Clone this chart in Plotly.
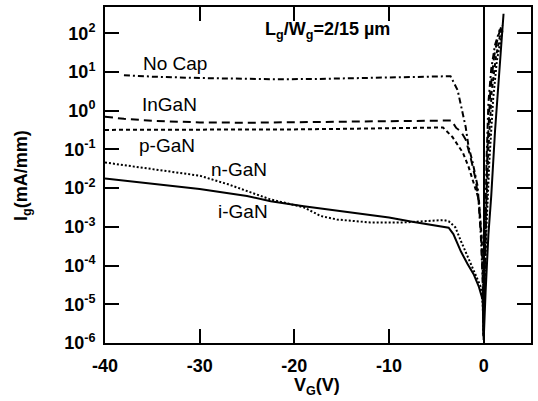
import plotly.graph_objects as go

# ---- data (gate voltage V, gate current mA/mm) ----
v_nocap = [-38, -35, -30, -25, -22, -18, -15, -12, -8, -5, -3.5, -2.75, -2.43, -1.9, -1.6, -1.16, -0.63, -0.3, -0.1, 0,
           0.05, 0.15, 0.3, 0.5, 0.8, 1.2, 1.7]
i_nocap = [8.3, 7.6, 7.0, 6.7, 6.5, 6.6, 6.8, 7.2, 7.5, 7.7, 7.8, 3.4, 1.6, 0.38, 0.12, 0.046, 0.011, 6e-4, 4e-5, 1.5e-6,
           1.6e-5, 1e-3, 0.05, 1.6, 12.0, 50.0, 125.0]

v_ingan = [-40, -38, -35, -30, -25, -20, -15, -10, -6, -3.4, -2.9, -2.4, -1.9, -1.4, -0.85, -0.5, -0.25, -0.1, 0,
           0.05, 0.2, 0.4, 0.7, 1.1, 1.5, 1.9]
i_ingan = [0.70, 0.62, 0.55, 0.50, 0.49, 0.50, 0.51, 0.53, 0.55, 0.56, 0.36, 0.29, 0.18, 0.065, 0.017, 4e-3, 5e-4, 5e-5, 1.5e-6,
           1.6e-5, 1.6e-3, 0.1, 3.2, 25.0, 80.0, 160.0]

v_pgan = [-40, -35, -30, -25, -20, -15, -10, -6, -4.3, -3.3, -2.75, -2.2, -1.6, -1.05, -0.5, -0.2, -0.05, 0,
          0.05, 0.25, 0.5, 0.85, 1.3, 1.7, 2.0]
i_pgan = [0.32, 0.32, 0.33, 0.33, 0.33, 0.34, 0.36, 0.37, 0.37, 0.21, 0.13, 0.083, 0.036, 0.014, 5e-3, 5e-4, 3e-5, 1.5e-6,
          1.3e-5, 1.6e-3, 0.1, 3.2, 25.0, 80.0, 160.0]

v_ngan = [-40, -37, -33.4, -30, -27, -24.7, -22.5, -19, -17.2, -15.5, -12, -8.5, -6, -4.2, -3.7, -3.0, -2.4, -1.7, -1.06, -0.3, -0.1, 0,
          0.05, 0.3, 0.6, 1.0, 1.4, 1.8, 2.0]
i_ngan = [0.046, 0.036, 0.027, 0.021, 0.0126, 0.008, 5.1e-3, 3.2e-3, 1.9e-3, 1.55e-3, 1.3e-3, 1.3e-3, 1.4e-3, 1.5e-3, 1.4e-3, 9.8e-4, 4.3e-4, 1.7e-4, 7.2e-5, 2.8e-5, 1e-5, 1.5e-6,
          1e-5, 1e-3, 0.05, 2.0, 20.0, 80.0, 125.0]

v_igan = [-40, -35, -30, -25, -22.5, -19, -15, -10, -7.7, -5, -3.7, -3.2, -2.4, -1.7, -1.06, -0.5, -0.1, 0,
          0.05, 0.2, 0.5, 0.8, 1.2, 1.6, 1.8, 2.1]
i_igan = [0.0178, 0.013, 9.5e-3, 6.3e-3, 4.6e-3, 3.4e-3, 2.5e-3, 1.74e-3, 1.38e-3, 1.05e-3, 9.5e-4, 6.5e-4, 2.3e-4, 1.1e-4, 6e-5, 2.8e-5, 1.3e-5, 1.2e-6,
          3e-6, 2e-5, 6.3e-4, 6.3e-3, 0.3, 10.0, 32.0, 320.0]

x_ticks = [-40, -30, -20, -10, 0]
x_ticktext = ["-40", "-30", "-20", "-10", "0"]
y_ticks = [1e-6, 1e-5, 1e-4, 1e-3, 1e-2, 1e-1, 1e0, 1e1, 1e2]
y_ticktext = ["10<sup>-6</sup>", "10<sup>-5</sup>", "10<sup>-4</sup>", "10<sup>-3</sup>", "10<sup>-2</sup>",
              "10<sup>-1</sup>", "10<sup>0</sup>", "10<sup>1</sup>", "10<sup>2</sup>"]

series = [
    ("No Cap", v_nocap, i_nocap, "6px,3px,2px,3px"),
    ("InGaN", v_ingan, i_ingan, "8px,5px"),
    ("p-GaN", v_pgan, i_pgan, "4px,3px"),
    ("n-GaN", v_ngan, i_ngan, "2px,2px"),
    ("i-GaN", v_igan, i_igan, "solid"),
]

fig = go.Figure()
for name, vx, iy, dash in series:
    fig.add_trace(go.Scatter(x=vx, y=iy, mode="lines", name=name,
                             line=dict(color="black", width=2, dash=dash)))

# curve labels (data coords; y in log10 units)
labels = [("No Cap", -32.6, 1.23), ("InGaN", -33.2, 0.15), ("p-GaN", -33.4, -0.9),
          ("n-GaN", -25.8, -1.52), ("i-GaN", -25.4, -2.6)]
for txt, lx, ly in labels:
    fig.add_annotation(x=lx, y=ly, xref="x", yref="y", text=txt, showarrow=False,
                       font=dict(family="Arial", size=19, color="black"))

fig.add_annotation(x=-16.5, y=2.08, xref="x", yref="y",
                   text="L<sub>g</sub>/W<sub>g</sub>=2/15 \u00b5m", showarrow=False,
                   font=dict(family="Arial", size=18, color="black", weight="bold"))

# axis titles
fig.add_annotation(x=-0.195, y=0.5, xref="paper", yref="paper", text="I<sub>g</sub>(mA/mm)",
                   textangle=-90, showarrow=False, xanchor="center", yanchor="middle",
                   font=dict(family="Arial", size=18, color="black", weight="bold"))
fig.add_annotation(x=0.498, y=-0.13, xref="paper", yref="paper", text="V<sub>G</sub>(V)",
                   showarrow=False, xanchor="center", yanchor="middle",
                   font=dict(family="Arial", size=18, color="black", weight="bold"))

fig.update_layout(
    width=538, height=401, autosize=False,
    margin=dict(l=105, r=7, t=5, b=58),
    paper_bgcolor="white", plot_bgcolor="white",
    showlegend=False,
    font=dict(family="Arial", color="black"),
)
fig.update_xaxes(range=[-40, 5], tickvals=x_ticks, ticktext=x_ticktext,
                 showline=True, linewidth=2, linecolor="black", mirror="allticks",
                 ticks="inside", ticklen=14, tickwidth=2, tickcolor="black",
                 showgrid=False, zeroline=True, zerolinecolor="black", zerolinewidth=2,
                 tickfont=dict(family="Arial", size=18, color="black", weight="bold"),
                 ticklabelstandoff=5)
fig.update_yaxes(type="log", range=[-6, 2.68], tickvals=y_ticks, ticktext=y_ticktext,
                 showline=True, linewidth=2, linecolor="black", mirror="allticks",
                 ticks="inside", ticklen=14, tickwidth=2, tickcolor="black",
                 showgrid=False, zeroline=False,
                 tickfont=dict(family="Arial", size=18, color="black", weight="bold"),
                 ticklabelstandoff=4)

fig.write_html("out.html")
